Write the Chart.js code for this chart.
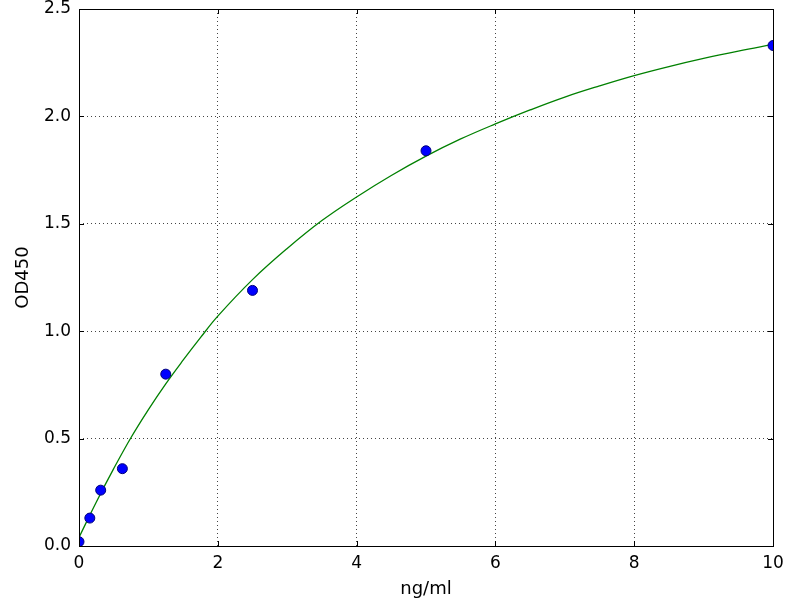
<!DOCTYPE html>
<html>
<head>
<meta charset="utf-8">
<script src="https://cdn.jsdelivr.net/npm/chart.js@4/dist/chart.umd.min.js"></script>
<style>
  html, body { margin: 0; padding: 0; background: #fff; }
  #wrap { width: 800px; height: 600px; }
</style>
</head>
<body>
<div id="wrap"><canvas id="c" width="800" height="600"></canvas></div>
<script>
// standard points (ng/ml -> OD450)
const conc = [0, 0.156, 0.3125, 0.625, 1.25, 2.5, 5, 10];
const od = [0.02, 0.13, 0.26, 0.36, 0.80, 1.19, 1.84, 2.33];

// fitted curve
const fitX = [0, 0.25, 0.5, 0.75, 1, 1.25, 1.5, 1.75, 2, 2.5, 3, 3.5, 4, 4.5, 5, 5.5, 6, 6.5, 7, 7.5, 8, 8.5, 9, 9.5, 10];
const fitY = [0.04, 0.205, 0.36, 0.505, 0.635, 0.755, 0.865, 0.97, 1.07, 1.24, 1.385, 1.515, 1.625, 1.725, 1.815, 1.895, 1.965, 2.03, 2.09, 2.142, 2.19, 2.232, 2.27, 2.304, 2.335];

const xTicks = [0, 2, 4, 6, 8, 10];
const yTicks = [0, 0.5, 1.0, 1.5, 2.0, 2.5];

const FONT = "'DejaVu Sans', sans-serif";

// black box + inward tick marks, like the old matplotlib look
const frame = {
    id: 'frame',
    afterDraw(chart) {
        const { ctx, chartArea: a, scales } = chart;
        ctx.save();
        ctx.strokeStyle = '#000';
        ctx.lineWidth = 1;
        ctx.beginPath();
        xTicks.forEach(v => {
            const x = Math.round(scales.x.getPixelForValue(v)) + 0.5;
            ctx.moveTo(x, a.bottom); ctx.lineTo(x, a.bottom - 5);
            ctx.moveTo(x, a.top); ctx.lineTo(x, a.top + 5);
        });
        yTicks.forEach(v => {
            const y = Math.round(scales.y.getPixelForValue(v)) + 0.5;
            ctx.moveTo(a.left, y); ctx.lineTo(a.left + 5, y);
            ctx.moveTo(a.right, y); ctx.lineTo(a.right - 5, y);
        });
        ctx.stroke();
        ctx.strokeRect(Math.round(a.left) + 0.5, Math.round(a.top) + 0.5,
            Math.round(a.right - a.left), Math.round(a.bottom - a.top));
        ctx.restore();
    }
};

new Chart(document.getElementById('c'), {
    type: 'scatter',
    data: {
        datasets: [
            {
                type: 'line',
                data: fitX.map((x, i) => ({ x, y: fitY[i] })),
                borderColor: '#008000',
                borderWidth: 1.3,
                pointRadius: 0,
                tension: 0.4,
                fill: false,
                clip: 0,
                order: 2
            },
            {
                data: conc.map((x, i) => ({ x, y: od[i] })),
                backgroundColor: '#0000ff',
                borderColor: '#00007a',
                borderWidth: 1,
                pointRadius: 5,
                clip: 0,
                order: 1
            }
        ]
    },
    options: {
        responsive: false,
        animation: false,
        devicePixelRatio: 1,
        layout: { padding: { top: 9, right: 27, left: 0, bottom: 0 } },
        plugins: { legend: { display: false }, tooltip: { enabled: false } },
        scales: {
            x: {
                type: 'linear',
                min: 0, max: 10,
                afterFit(s) { s.height = 54; s.paddingRight = 0; s.paddingLeft = 0; },
                afterBuildTicks(s) { s.ticks = xTicks.map(value => ({ value })); },
                border: { display: false, dash: [1, 3] },
                grid: { color: '#444', lineWidth: 1, drawTicks: false },
                ticks: {
                    color: '#000', padding: 7,
                    font: { family: FONT, size: 17 },
                    callback: v => String(v)
                },
                title: {
                    display: true, text: 'ng/ml', color: '#000',
                    font: { family: FONT, size: 18 },
                    padding: { top: 0, bottom: 0 }
                }
            },
            y: {
                type: 'linear',
                min: 0, max: 2.5,
                afterFit(s) { s.width = 79; s.paddingTop = 0; s.paddingBottom = 0; },
                afterBuildTicks(s) { s.ticks = yTicks.map(value => ({ value })); },
                border: { display: false, dash: [1, 3] },
                grid: { color: '#444', lineWidth: 1, drawTicks: false },
                ticks: {
                    color: '#000', padding: 8,
                    font: { family: FONT, size: 17 },
                    callback: v => v.toFixed(1)
                },
                title: {
                    display: true, text: 'OD450', color: '#000',
                    font: { family: FONT, size: 18 },
                    padding: { top: 13, bottom: 0 }
                }
            }
        }
    },
    plugins: [frame]
});
</script>
</body>
</html>
